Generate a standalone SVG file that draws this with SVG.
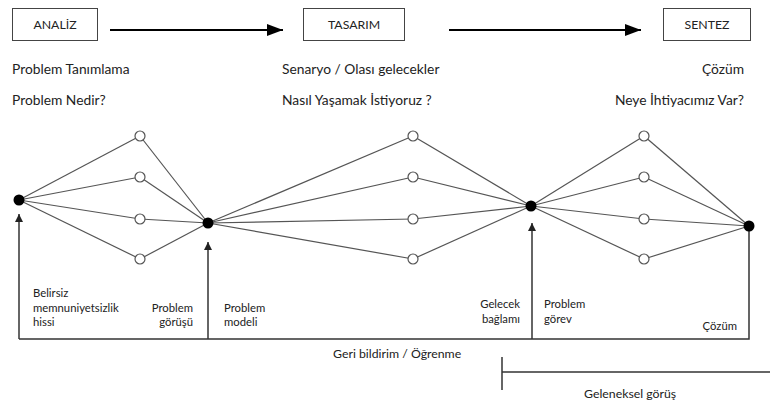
<svg xmlns="http://www.w3.org/2000/svg" width="770" height="403" viewBox="0 0 770 403">
  <defs>
    <marker id="bigHead" viewBox="0 0 16 12" refX="16" refY="6" markerWidth="16" markerHeight="12" markerUnits="userSpaceOnUse" orient="auto">
      <path d="M0,0 L16,6 L0,12 Z" fill="#000"/>
    </marker>
    <marker id="smallHead" viewBox="0 0 8 8" refX="8" refY="4" markerWidth="8" markerHeight="8" markerUnits="userSpaceOnUse" orient="auto">
      <path d="M0,0 L8,4 L0,8 Z" fill="#222"/>
    </marker>
  </defs>
  <style>
    .box { fill: #fff; stroke: #444; stroke-width: 1; }
    .txt { font-family: Lato, "Liberation Sans", sans-serif; fill: #222; }
    .t13 { font-size: 13.8px; }
    .t11 { font-size: 11.3px; }
    .t12 { font-size: 12.3px; }
    .mid { text-anchor: middle; }
    .end { text-anchor: end; }
    .edge { stroke: #555; stroke-width: 1.2; fill: none; }
    .flow { stroke: #000; stroke-width: 2; fill: none; }
    .up { stroke: #333; stroke-width: 1.5; fill: none; }
    .open { fill: #fff; stroke: #555; stroke-width: 1.2; }
    .solid { fill: #000; }
  </style>
  <rect width="770" height="403" fill="#fff"/>

  <!-- phase boxes -->
  <g id="analiz">
    <rect class="box" x="12.5" y="8.5" width="85" height="32"/>
    <text class="txt t12 mid" x="55" y="29">ANALİZ</text>
  </g>
  <g id="tasarim">
    <rect class="box" x="303.5" y="8.5" width="101" height="32"/>
    <text class="txt t12 mid" x="354" y="29">TASARIM</text>
  </g>
  <g id="sentez">
    <rect class="box" x="663.5" y="8.5" width="87" height="32"/>
    <text class="txt t12 mid" x="707" y="29">SENTEZ</text>
  </g>

  <!-- phase descriptions -->
  <g id="phase-notes">
    <text class="txt t13" x="12" y="74">Problem Tanımlama</text>
    <text class="txt t13" x="12" y="105">Problem Nedir?</text>
    <text class="txt t13" x="282" y="74">Senaryo / Olası gelecekler</text>
    <text class="txt t13" x="282" y="105">Nasıl Yaşamak İstiyoruz ?</text>
    <text class="txt t13 end" x="744" y="74">Çözüm</text>
    <text class="txt t13 end" x="744" y="105">Neye İhtiyacımız Var?</text>
  </g>

  <!-- connectors -->
  <g id="connectors">
    <line class="flow" x1="110" y1="30" x2="283" y2="30" marker-end="url(#bigHead)"/>
    <line class="flow" x1="449" y1="30" x2="641" y2="30" marker-end="url(#bigHead)"/>

    <!-- divergence / convergence: analysis -->
    <line class="edge" x1="19" y1="200" x2="140" y2="136"/>
    <line class="edge" x1="19" y1="200" x2="140" y2="177"/>
    <line class="edge" x1="19" y1="200" x2="140" y2="219"/>
    <line class="edge" x1="19" y1="200" x2="140" y2="259"/>
    <line class="edge" x1="140" y1="136" x2="208" y2="223"/>
    <line class="edge" x1="140" y1="177" x2="208" y2="223"/>
    <line class="edge" x1="140" y1="219" x2="208" y2="223"/>
    <line class="edge" x1="140" y1="259" x2="208" y2="223"/>

    <!-- design -->
    <line class="edge" x1="208" y1="223" x2="413" y2="136"/>
    <line class="edge" x1="208" y1="223" x2="413" y2="177"/>
    <line class="edge" x1="208" y1="223" x2="413" y2="219"/>
    <line class="edge" x1="208" y1="223" x2="413" y2="259"/>
    <line class="edge" x1="413" y1="136" x2="531" y2="206"/>
    <line class="edge" x1="413" y1="177" x2="531" y2="206"/>
    <line class="edge" x1="413" y1="219" x2="531" y2="206"/>
    <line class="edge" x1="413" y1="259" x2="531" y2="206"/>

    <!-- synthesis -->
    <line class="edge" x1="531" y1="206" x2="644" y2="136"/>
    <line class="edge" x1="531" y1="206" x2="644" y2="177"/>
    <line class="edge" x1="531" y1="206" x2="644" y2="219"/>
    <line class="edge" x1="531" y1="206" x2="644" y2="259"/>
    <line class="edge" x1="644" y1="136" x2="749" y2="226"/>
    <line class="edge" x1="644" y1="177" x2="749" y2="226"/>
    <line class="edge" x1="644" y1="219" x2="749" y2="226"/>
    <line class="edge" x1="644" y1="259" x2="749" y2="226"/>

    <!-- feedback frame -->
    <polyline class="up" points="749,226 749,339 19,339"/>
    <line class="up" x1="19" y1="339" x2="19" y2="214" marker-end="url(#smallHead)"/>
    <line class="up" x1="208" y1="339" x2="208" y2="242" marker-end="url(#smallHead)"/>
    <line class="up" x1="532" y1="339" x2="532" y2="223" marker-end="url(#smallHead)"/>

    <!-- traditional view bracket -->
    <line class="up" x1="502" y1="357" x2="502" y2="390"/>
    <line class="up" x1="502" y1="372" x2="770" y2="372"/>
  </g>

  <!-- nodes -->
  <g id="n-start"><circle class="solid" cx="19" cy="200" r="5.5"/></g>
  <g id="n-a1"><circle class="open" cx="140" cy="136" r="5"/></g>
  <g id="n-a2"><circle class="open" cx="140" cy="177" r="5"/></g>
  <g id="n-a3"><circle class="open" cx="140" cy="219" r="5"/></g>
  <g id="n-a4"><circle class="open" cx="140" cy="259" r="5"/></g>
  <g id="n-model"><circle class="solid" cx="208" cy="223" r="5.5"/></g>
  <g id="n-d1"><circle class="open" cx="413" cy="136" r="5"/></g>
  <g id="n-d2"><circle class="open" cx="413" cy="177" r="5"/></g>
  <g id="n-d3"><circle class="open" cx="413" cy="219" r="5"/></g>
  <g id="n-d4"><circle class="open" cx="413" cy="259" r="5"/></g>
  <g id="n-future"><circle class="solid" cx="531" cy="206" r="5.5"/></g>
  <g id="n-s1"><circle class="open" cx="644" cy="136" r="5"/></g>
  <g id="n-s2"><circle class="open" cx="644" cy="177" r="5"/></g>
  <g id="n-s3"><circle class="open" cx="644" cy="219" r="5"/></g>
  <g id="n-s4"><circle class="open" cx="644" cy="259" r="5"/></g>
  <g id="n-end"><circle class="solid" cx="749" cy="226" r="5.5"/></g>

  <!-- stage labels -->
  <g id="labels">
    <text class="txt t11" x="33" y="297">Belirsiz</text>
    <text class="txt t11" x="33" y="311.5">memnuniyetsizlik</text>
    <text class="txt t11" x="33" y="326">hissi</text>
    <text class="txt t11 end" x="193" y="311.5">Problem</text>
    <text class="txt t11 end" x="193" y="326">görüşü</text>
    <text class="txt t11" x="224" y="311.5">Problem</text>
    <text class="txt t11" x="224" y="326">modeli</text>
    <text class="txt t11 end" x="520" y="308">Gelecek</text>
    <text class="txt t11 end" x="520" y="322.5">bağlamı</text>
    <text class="txt t11" x="544" y="308">Problem</text>
    <text class="txt t11" x="544" y="322.5">görev</text>
    <text class="txt t11 end" x="737" y="330">Çözüm</text>
    <text class="txt t12" x="333" y="358">Geri bildirim / Öğrenme</text>
    <text class="txt t12" x="584" y="398">Geleneksel görüş</text>
  </g>
</svg>
